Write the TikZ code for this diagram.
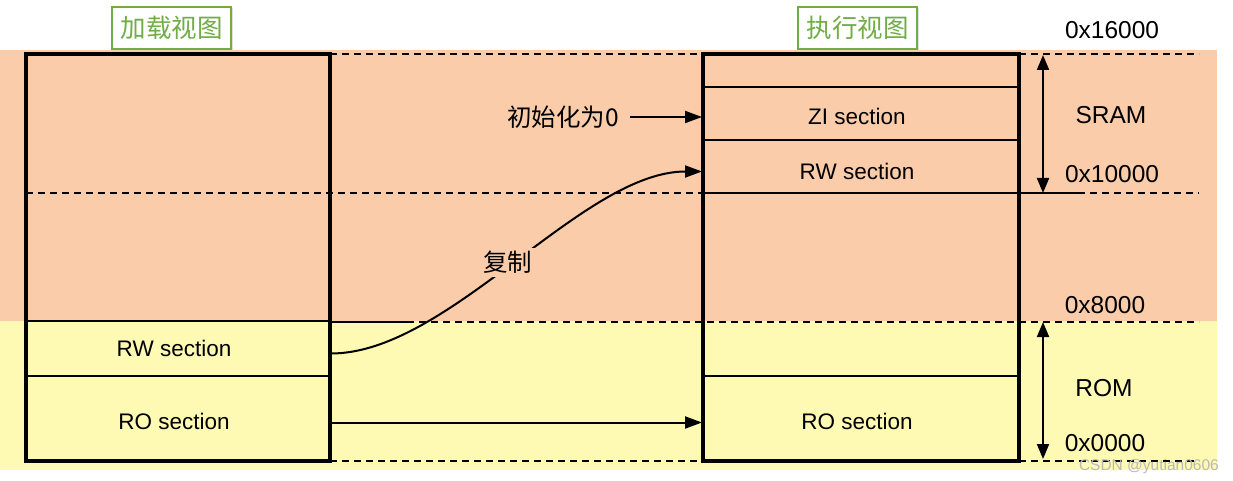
\documentclass[tikz,border=0pt]{standalone}
\usepackage{fontspec}
\setmainfont{Liberation Sans}
\newfontfamily\cjk{Noto Sans CJK SC}
\usetikzlibrary{arrows.meta,calc,shadows}
\definecolor{peach}{HTML}{FBCCAA}
\definecolor{lemon}{HTML}{FEFAB4}
\definecolor{titlegreen}{HTML}{70AD47}
\begin{document}
\begin{tikzpicture}[x=1pt,y=-1pt,
  sec/.style={draw, line width=2pt, inner sep=0pt},
  lsec/.style={sec, minimum width=304pt},
  rsec/.style={sec, minimum width=316pt},
  seclabel/.style={font=\fontsize{22.5}{25}\selectfont, inner sep=0pt},
  outerbox/.style={draw, line width=3.5pt, inner sep=0pt},
  dashline/.style={line width=2.2pt, dash pattern=on 7pt off 5pt},
  solidline/.style={line width=2.2pt},
  hexlabel/.style={font=\fontsize{24.5}{27}\selectfont, inner sep=0pt},
  titlebox/.style={draw=titlegreen, line width=1.6pt, text=titlegreen, fill=white,
    minimum width=119pt, minimum height=42pt, inner sep=0pt,
    font=\cjk\fontsize{25.5}{28}\selectfont,
    drop shadow={opacity=0.25, shadow xshift=1.5pt, shadow yshift=-1.5pt}},
  cjklabel/.style={font=\cjk\fontsize{24.5}{28}\selectfont, inner sep=2pt},
  arr/.style={line width=2pt, -{Triangle[length=17pt,width=12pt]}},
  dblarr/.style={line width=2pt, {Triangle[length=15pt,width=12pt]}-{Triangle[length=15pt,width=12pt]}}
]
\useasboundingbox (0,0) rectangle (1233,481);
% backgrounds
\fill[peach] (0,50) rectangle (1217,321);
\fill[lemon] (0,321) rectangle (1217,470);

% dashed address lines
\draw[dashline] (330,54) -- (703,54);
\draw[dashline] (1019,54) -- (1199,54);
\draw[dashline] (26,193) -- (703,193);
\draw[solidline] (1019,193) -- (1078,193);
\draw[dashline] (1078,193) -- (1199,193);
\draw[solidline] (330,322) -- (407,322);
\draw[dashline] (407,322) -- (1199,322);
\draw[dashline] (330,461) -- (703,461);
\draw[dashline] (1019,461) -- (1199,461);

% left (load view) sections
\node[lsec, minimum height=55pt] (LRW) at (178,348.5) {};
\node[lsec, minimum height=85pt] (LRO) at (178,418.5) {};
% right (execution view) sections
\node[rsec, minimum height=33pt] (RTOP) at (861,70.5) {};
\node[rsec, minimum height=53pt] (RZI) at (861,113.5) {};
\node[rsec, minimum height=53pt] (RRW) at (861,166.5) {};
\node[rsec, minimum height=85pt] (RRO) at (861,418.5) {};

% section labels
\node[seclabel] (tLRW) at ($(LRW)+(-4,0)$) {RW section};
\node[seclabel] (tLRO) at ($(LRO)+(-4,2.5)$) {RO section};
\node[seclabel] (tRZI) at ($(RZI)+(-4,2.5)$) {ZI section};
\node[seclabel] (tRRW) at ($(RRW)+(-4,5)$) {RW section};
\node[seclabel] (tRRO) at ($(RRO)+(-4,2.5)$) {RO section};

% outer boxes
\node[outerbox, minimum width=304pt, minimum height=407pt] (LV) at (178,257.5) {};
\node[outerbox, minimum width=316pt, minimum height=407pt] (RV) at (861,257.5) {};

% titles
\node[titlebox] (T1) at (171.5,28) {加载视图};
\node[titlebox] (T2) at (857.5,28) {执行视图};

% address labels
\node[hexlabel] (a16) at (1112,30) {0x16000};
\node[hexlabel] (sram) at (1111,115) {SRAM};
\node[hexlabel] (a10) at (1112,174) {0x10000};
\node[hexlabel] (a8) at (1105,305) {0x8000};
\node[hexlabel] (rom) at (1104,388) {ROM};
\node[hexlabel] (a0) at (1105,443) {0x0000};

\coordinate (s1) at (1043,55);
\coordinate (s2) at (1043,193);
\coordinate (r1) at (1043,322);
\coordinate (r2) at (1043,459);
\draw[dblarr] (s1) -- (s2);
\draw[dblarr] (r1) -- (r2);

% zero init label
\node[cjklabel, anchor=east] (init) at (621,117) {初始化为0};
\draw[arr, shorten <=9pt] (init.east) -- (init.east -| RZI.west);

% copy curve
\draw[arr] ($(LRW.east)+(0,5)$) .. controls +(118,0) and +(-120,0) .. ($(RRW.west)+(0,5)$)
  node[pos=0.5, xshift=-8pt, fill=peach, cjklabel, inner sep=3pt] (copy) {复制};

% RO arrow
\draw[arr] ($(LRO.east)+(0,4)$) -- ($(RRO.west)+(0,4)$);

% watermark
\node[font=\fontsize{15.5}{17}\selectfont, text=gray!55, anchor=east, inner sep=0pt] (wm) at (1219,466) {CSDN @yutian0606};
\end{tikzpicture}
\end{document}
